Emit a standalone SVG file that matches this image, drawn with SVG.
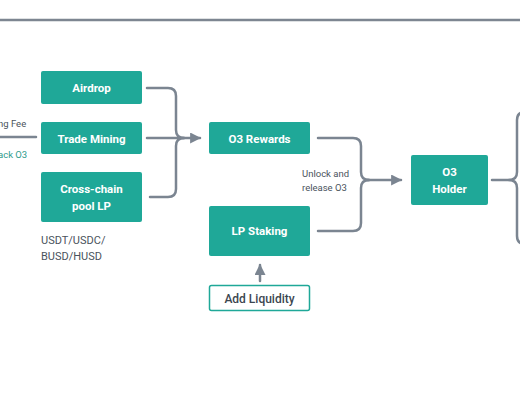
<svg xmlns="http://www.w3.org/2000/svg" width="520" height="400" viewBox="0 0 520 400">
<defs>
<style>
.box{fill:#1fa898;}
.lbl{font-family:Roboto,"Liberation Sans",sans-serif;font-weight:700;font-size:11.5px;fill:#ffffff;text-anchor:middle;}
.txt{font-family:Roboto,"Liberation Sans",sans-serif;font-size:9.5px;fill:#4a535c;}
.con{fill:none;stroke:#7b8591;stroke-width:2.5;stroke-linecap:round;}
</style>
<marker id="ah" viewBox="0 0 10 10" refX="9" refY="5" markerWidth="4.4" markerHeight="4.4" orient="auto" markerUnits="strokeWidth">
<path d="M0,0 L10,5 L0,10 z" fill="#7b8591"/>
</marker>
</defs>
<rect width="520" height="400" fill="#ffffff"/>
<line x1="0" y1="20" x2="520" y2="20" stroke="#7d8691" stroke-width="2.5"/>

<g id="left-labels">
<text class="txt" x="-2" y="127" style="font-size:9.5px">ng Fee</text>
<text class="txt" x="-2" y="158" style="font-size:9.5px;fill:#2f9b8c">ack O3</text>
</g>

<g id="connectors">
<path class="con" d="M0,137 H36"/>
<path class="con" d="M147,88 H168 Q176,88 176,96 V130 Q176,138 184,138"/>
<path class="con" d="M150,197 H168 Q176,197 176,189 V146 Q176,138 184,138"/>
<path class="con" d="M147,138 H200" marker-end="url(#ah)"/>
<path class="con" d="M318,138 H353 Q361,138 361,146 V172 Q361,180 369,180"/>
<path class="con" d="M318,231 H353 Q361,231 361,223 V188 Q361,180 369,180"/>
<path class="con" d="M366,180 H401" marker-end="url(#ah)"/>
<path class="con" d="M492,180 H509 Q517,180 517,172 V120 Q517,112 525,112"/>
<path class="con" d="M509,180 Q517,180 517,188 V236 Q517,244 525,244"/>
<path class="con" d="M260,281 V265" marker-end="url(#ah)"/>
</g>

<g id="airdrop">
<rect class="box" x="41" y="71" width="101" height="33" rx="2"/>
<text class="lbl" x="91.5" y="92">Airdrop</text>
</g>
<g id="trade-mining">
<rect class="box" x="41" y="122" width="101" height="32" rx="2"/>
<text class="lbl" x="91.5" y="142.5">Trade Mining</text>
</g>
<g id="cross-chain">
<rect class="box" x="41" y="172" width="101" height="50" rx="2"/>
<text class="lbl" x="91.5" y="193">Cross-chain</text>
<text class="lbl" x="91.5" y="209.5">pool LP</text>
</g>
<g id="stable-label">
<text class="txt" x="41" y="244" style="font-size:11px">USDT/USDC/</text>
<text class="txt" x="41" y="260" style="font-size:11px">BUSD/HUSD</text>
</g>
<g id="o3-rewards">
<rect class="box" x="209" y="122" width="101" height="32" rx="2"/>
<text class="lbl" x="259.5" y="142.5">O3 Rewards</text>
</g>
<g id="lp-staking">
<rect class="box" x="209" y="206" width="101" height="50" rx="2"/>
<text class="lbl" x="259.5" y="235">LP Staking</text>
</g>
<g id="add-liquidity">
<rect x="209.5" y="285.5" width="100" height="25" rx="2" fill="#ffffff" stroke="#1fa898" stroke-width="1.5"/>
<text class="lbl" x="259.5" y="302.5" style="fill:#3c4650;font-weight:500;font-size:12px">Add Liquidity</text>
</g>
<g id="unlock-label">
<text class="txt" x="302" y="177">Unlock and</text>
<text class="txt" x="302" y="191">release O3</text>
</g>
<g id="o3-holder">
<rect class="box" x="411" y="155" width="77" height="50" rx="2"/>
<text class="lbl" x="449.5" y="176">O3</text>
<text class="lbl" x="449.5" y="193">Holder</text>
</g>
</svg>
